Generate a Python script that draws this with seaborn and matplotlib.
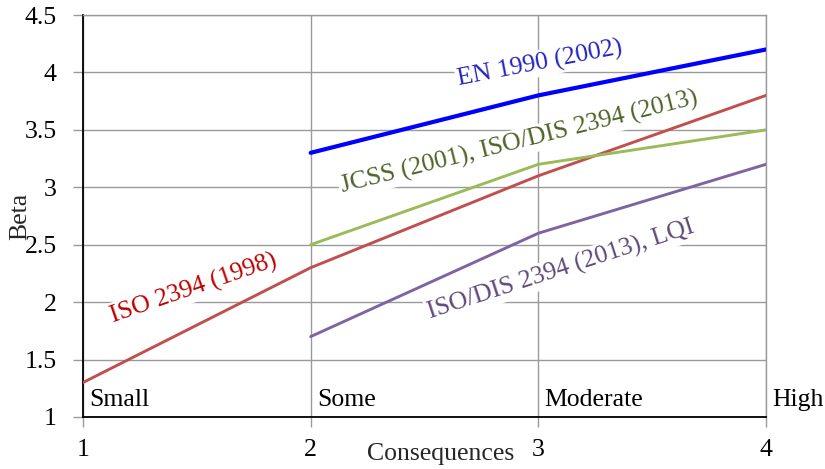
import matplotlib
matplotlib.use("Agg")
import matplotlib.pyplot as plt
import seaborn as sns
import pandas as pd

# ---- data ----
consequence_x = [1, 2, 3, 4]
category_labels = ["Small", "Some", "Moderate", "High"]

en1990_x = [2, 3, 4]
en1990_y = [3.3, 3.8, 4.2]
iso1998_x = [1, 2, 3, 4]
iso1998_y = [1.3, 2.3, 3.1, 3.8]
jcss_x = [2, 3, 4]
jcss_y = [2.5, 3.2, 3.5]
lqi_x = [2, 3, 4]
lqi_y = [1.7, 2.6, 3.2]

y_ticks = [1, 1.5, 2, 2.5, 3, 3.5, 4, 4.5]
y_tick_labels = ["1", "1.5", "2", "2.5", "3", "3.5", "4", "4.5"]

sns.set_theme(style="white")
plt.rcParams["font.family"] = ["Liberation Serif", "DejaVu Serif"]

fig = plt.figure(figsize=(8.25, 4.69), dpi=100)
ax = fig.add_axes([0.1006, 0.1109, 0.8279, 0.8571])

series = [
    (en1990_x, en1990_y, "#0000FF", 3.0),
    (iso1998_x, iso1998_y, "#C0504D", 2.1),
    (jcss_x, jcss_y, "#9BBB59", 2.1),
    (lqi_x, lqi_y, "#8064A2", 2.1),
]
for xs, ys, c, lw in series:
    df = pd.DataFrame({"x": xs, "y": ys})
    sns.lineplot(data=df, x="x", y="y", color=c, linewidth=lw, ax=ax, zorder=3)

ax.set_xlim(1, 4)
ax.set_ylim(1, 4.5)
ax.set_xticks(consequence_x)
ax.set_xticklabels([str(v) for v in consequence_x])
ax.set_yticks(y_ticks)
ax.set_yticklabels(y_tick_labels)

grid_c = "#9a9a9a"
ax.set_axisbelow(True)
ax.grid(True, color=grid_c, linewidth=1.0)
ax.tick_params(axis="both", which="major", labelsize=18.5, colors="black",
               length=7, width=1.0, color=grid_c, direction="out")
ax.tick_params(axis="x", pad=9)
ax.tick_params(axis="y", pad=12)
ax.tick_params(left=True, bottom=True)

for s in ["top", "right"]:
    ax.spines[s].set_color(grid_c)
    ax.spines[s].set_linewidth(1.0)
for s in ["left", "bottom"]:
    ax.spines[s].set_color("black")
    ax.spines[s].set_linewidth(1.3)

ax.set_xlabel("Consequences", fontsize=18.5)
ax.xaxis.set_label_coords(0.523, -0.065)
ax.xaxis.label.set_va("top")
ax.set_ylabel("Beta", fontsize=18.5)
ax.yaxis.set_label_coords(-0.075, 0.5)

# category labels inside the plot
for xv, lab in zip(consequence_x, category_labels):
    ax.text(xv + 0.028, 1.1, lab, fontsize=18.5, ha="left", va="baseline",
            color="black", clip_on=False)

bbox = dict(facecolor="white", edgecolor="none", pad=1.5)
ax.text(3.008, 4.08, "EN 1990 (2002)", fontsize=18.5, color="#2424C0",
        rotation=11, ha="center", va="center", rotation_mode="anchor",
        bbox=bbox, zorder=1.5)
ax.text(2.915, 3.39, "JCSS (2001), ISO/DIS 2394 (2013)", fontsize=18.5,
        color="#4F6228", rotation=14, ha="center", va="center",
        rotation_mode="anchor", bbox=bbox, zorder=1.5)
ax.text(1.488, 2.12, "ISO 2394 (1998)", fontsize=18.5, color="#C00000",
        rotation=19, ha="center", va="center", rotation_mode="anchor",
        bbox=bbox, zorder=1.5)
ax.text(3.10, 2.28, "ISO/DIS 2394 (2013), LQI", fontsize=18.5,
        color="#5F497A", rotation=18, ha="center", va="center",
        rotation_mode="anchor", bbox=bbox, zorder=1.5)

fig.savefig("out.png", dpi=100)
